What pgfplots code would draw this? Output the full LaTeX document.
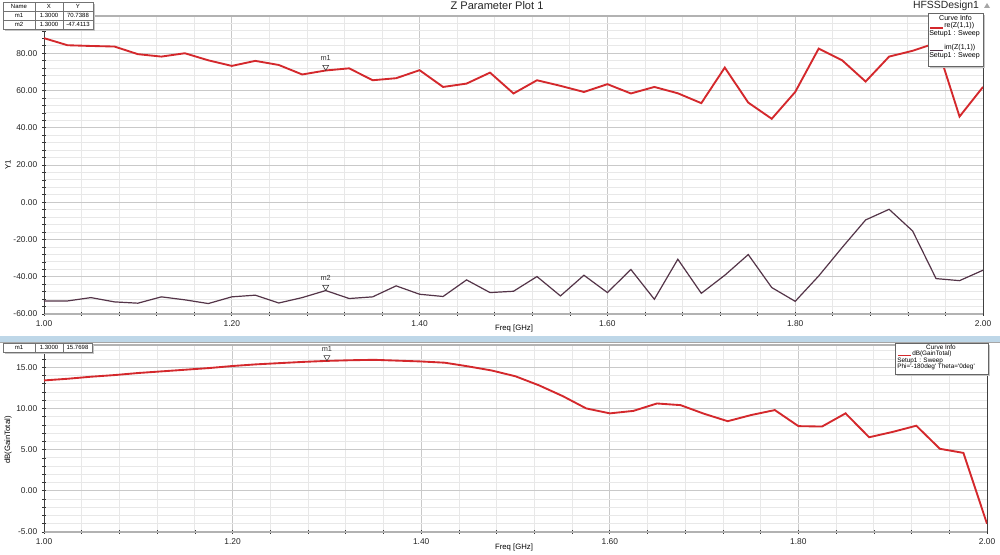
\documentclass[border=0pt]{standalone}
\usepackage{pgfplots}
\pgfplotsset{compat=1.18}
\usepackage{fontspec}
\setmainfont{Liberation Sans}
\definecolor{reRed}{RGB}{212,40,44}
\definecolor{imPur}{RGB}{84,52,72}
\definecolor{sepBlue}{RGB}{190,215,232}

\pgfplotstableread{
f re im
1.000 88.1 -53.0
1.025 84.3 -53.0
1.050 83.9 -51.2
1.075 83.6 -53.5
1.100 79.5 -54.2
1.125 78.2 -50.8
1.150 80.0 -52.4
1.175 76.2 -54.4
1.200 73.2 -50.8
1.225 75.9 -49.9
1.250 73.7 -54.1
1.275 68.6 -51.2
1.300 70.74 -47.41
1.325 71.9 -51.7
1.350 65.5 -50.8
1.375 66.6 -44.9
1.400 70.9 -49.4
1.425 61.9 -50.6
1.450 63.7 -41.7
1.475 69.6 -48.5
1.500 58.4 -47.8
1.525 65.5 -39.9
1.550 62.5 -50.3
1.575 59.2 -39.2
1.600 63.4 -48.5
1.625 58.4 -36.1
1.650 61.9 -52.1
1.675 58.5 -30.6
1.700 53.2 -48.9
1.725 72.3 -39.2
1.750 53.5 -28.1
1.775 44.8 -45.8
1.800 59.2 -53.2
1.825 82.5 -39.6
1.850 76.2 -24.3
1.875 64.8 -9.5
1.900 78.2 -3.8
1.925 81.3 -15.4
1.950 85.5 -41.0
1.975 46.0 -42.1
2.000 61.9 -36.5
}\zdata

\pgfplotstableread{
f g
1.000 13.4
1.025 13.6
1.050 13.85
1.075 14.05
1.100 14.3
1.125 14.5
1.150 14.7
1.175 14.9
1.200 15.15
1.225 15.35
1.250 15.5
1.275 15.65
1.300 15.77
1.325 15.85
1.350 15.9
1.375 15.8
1.400 15.7
1.425 15.55
1.450 15.1
1.475 14.6
1.500 13.9
1.525 12.8
1.550 11.5
1.575 10.0
1.600 9.4
1.625 9.7
1.650 10.6
1.675 10.4
1.700 9.35
1.725 8.45
1.750 9.2
1.775 9.8
1.800 7.85
1.825 7.8
1.850 9.4
1.875 6.5
1.900 7.15
1.925 7.9
1.950 5.1
1.975 4.6
2.000 -4.0
}\gdata

\pgfplotsset{
  hfss/.style={
    scale only axis,
    anchor=south west,
    xmin=1, xmax=2,
    xtick={1,1.2,1.4,1.6,1.8,2},
    xticklabels={1.00,1.20,1.40,1.60,1.80,2.00},
    minor xtick={1.04,1.08,1.12,1.16,1.24,1.28,1.32,1.36,1.44,1.48,1.52,1.56,1.64,1.68,1.72,1.76,1.84,1.88,1.92,1.96},
    grid=both,
    major grid style={gray!42, line width=0.5pt},
    minor grid style={gray!18, line width=0.6pt},
    tick align=center,
    major tick length=3pt,
    minor tick length=2.5pt,
    tick style={black!80, line width=0.5pt},
    separate axis lines,
    x axis line style={gray!60, line width=1.3pt},
    y axis line style={black!75, line width=0.7pt},
    tick label style={font=\fontsize{6.3}{7}\selectfont, text=black!85},
    xtick pos=bottom, ytick pos=left,
    clip=true,
  },
  mk/.style={only marks, mark=triangle, mark size=2.6pt,
    mark options={yshift=2.6pt, rotate=180, black!80, line width=0.4pt, fill=white},
    nodes near coords={#1},
    every node near coord/.style={font=\fontsize{5.5}{6}\selectfont, anchor=south, yshift=4.5pt, inner sep=0pt}},
}

\begin{document}
\begin{tikzpicture}
\path[use as bounding box, fill=white] (0pt,0pt) rectangle (750pt,416.25pt);

% ---------- top plot ----------
\begin{axis}[hfss,
  at={(33pt,180.75pt)},
  width=704.25pt, height=223.5pt,
  ymin=-60, ymax=100,
  ytick={-60,-40,-20,0,20,40,60,80,100},
  yticklabels={-60.00,-40.00,-20.00,0.00,20.00,40.00,60.00,80.00,{}},
  minor ytick={-56,-52,-48,-44,-36,-32,-28,-24,-16,-12,-8,-4,4,8,12,16,24,28,32,36,44,48,52,56,64,68,72,76,84,88,92,96},
]
\addplot[reRed, line width=1.4pt] table[x=f, y=re] {\zdata};
\addplot[imPur, line width=0.9pt] table[x=f, y=im] {\zdata};
\addplot[mk=m1] coordinates {(1.3,70.7388)};
\addplot[mk=m2] coordinates {(1.3,-47.4113)};
\end{axis}

% ---------- bottom plot ----------
\begin{axis}[hfss,
  at={(33pt,17.25pt)},
  width=707.25pt, height=140.25pt,
  ymin=-5, ymax=17.7,
  ytick={-5,0,5,10,15},
  yticklabels={-5.00,0.00,5.00,10.00,15.00},
  minor ytick={-4,-3,-2,-1,1,2,3,4,6,7,8,9,11,12,13,14,16,17},
]
\addplot[reRed, line width=1.4pt] table[x=f, y=g] {\gdata};
\addplot[mk=m1] coordinates {(1.3,15.7698)};
\end{axis}

\begin{scope}[x=0.75pt,y=0.75pt]
% ---------- separator ----------
\fill[sepBlue] (0,212.5) rectangle (1000,218.5);
\draw[black!35, line width=0.4pt] (0,212.5) -- (1000,212.5);

% ---------- headers and labels ----------
\node[font=\fontsize{8.3}{9}\selectfont, text=black!85] at (497,549) {Z Parameter Plot 1};
\node[font=\fontsize{7.8}{9}\selectfont, text=black!85] at (946,549) {HFSSDesign1};
\fill[gray!70] (984,547) -- (990,547) -- (987,552) -- cycle;
\node[font=\fontsize{5.8}{7}\selectfont, rotate=90] at (8,390) {Y1};
\node[font=\fontsize{5.8}{7}\selectfont, rotate=90] at (8,115) {dB(GainTotal)};
\node[font=\fontsize{5.8}{7}\selectfont] at (514,226) {Freq [GHz]};
\node[font=\fontsize{5.8}{7}\selectfont] at (514,7) {Freq [GHz]};

% ---------- marker tables ----------
\begin{scope}[font=\fontsize{4.5}{5}\selectfont, inner sep=0pt]
\fill[gray!45] (5,524) rectangle (95,551);
\fill[white] (3,526) rectangle (93,553);
\draw[black!55, line width=0.3pt] (3,526) rectangle (93,553);
\draw[black!55, line width=0.3pt] (3,544) -- (93,544) (3,535) -- (93,535) (35,526) -- (35,553) (63,526) -- (63,553);
\node at (19,548.5) {Name}; \node at (49,548.5) {X}; \node at (78,548.5) {Y};
\node at (19,539.5) {m1}; \node at (49,539.5) {1.3000}; \node at (78,539.5) {70.7388};
\node at (19,530.5) {m2}; \node at (49,530.5) {1.3000}; \node at (78,530.5) {-47.4113};

\fill[gray!45] (5,201) rectangle (94,210);
\fill[white] (3,203) rectangle (92,212);
\draw[black!55, line width=0.3pt] (3,203) rectangle (92,212);
\draw[black!55, line width=0.3pt] (35,203) -- (35,212) (63,203) -- (63,212);
\node at (19,207.5) {m1}; \node at (49,207.5) {1.3000}; \node at (77.5,207.5) {15.7698};
\end{scope}

% ---------- curve info boxes ----------
\begin{scope}[font=\fontsize{5.3}{6}\selectfont, inner sep=0pt]
\fill[gray!45] (930,487) rectangle (985,540);
\fill[white] (928,489) rectangle (983,542);
\draw[black!60, line width=0.4pt] (928,489) rectangle (983,542);
\node at (955.5,537) {Curve Info};
\draw[reRed, line width=1.2pt] (930,527) -- (943,527);
\node[anchor=west] at (944,529) {re(Z(1,1))};
\node[anchor=west] at (929,521.5) {Setup1 : Sweep};
\draw[imPur, line width=0.7pt] (930,505) -- (943,505);
\node[anchor=west] at (944,507) {im(Z(1,1))};
\node[anchor=west] at (929,499.5) {Setup1 : Sweep};
\end{scope}
\begin{scope}[font=\fontsize{4.8}{5}\selectfont, inner sep=0pt]
\fill[gray!45] (897,179) rectangle (990,210);
\fill[white] (895,181) rectangle (988,212);
\draw[black!60, line width=0.4pt] (895,181) rectangle (988,212);
\node at (941,208) {Curve Info};
\draw[reRed, line width=1.2pt] (898,199.5) -- (911,199.5);
\node[anchor=west] at (912,201.5) {dB(GainTotal)};
\node[anchor=west] at (897,194.5) {Setup1 : Sweep};
\node[anchor=west] at (897,188) {Phi=\textquotesingle-180deg\textquotesingle\ Theta=\textquotesingle0deg\textquotesingle};
\end{scope}
\end{scope}
\end{tikzpicture}
\end{document}
